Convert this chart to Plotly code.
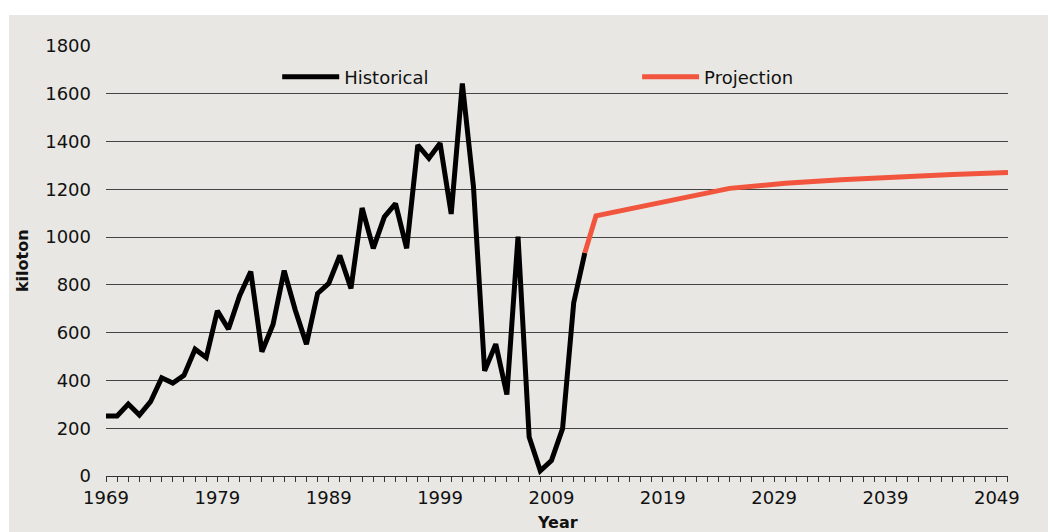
import plotly.graph_objects as go

# Historical series, kiloton per year
hist_years = list(range(1969, 2013))
hist_values = [
    251, 251, 301, 255, 311, 411, 389, 421, 531, 496,
    691, 615, 755, 856, 520, 634, 860, 694, 552, 764,
    806, 923, 785, 1122, 953, 1085, 1140, 953, 1385, 1330,
    1393, 1097, 1643, 1210, 440, 552, 341, 1002, 163, 22,
    65, 198, 725, 934,
]

# Projection, joined to the last historical year
proj_years = [2012, 2013, 2025, 2030, 2035, 2040, 2045, 2050]
proj_values = [934, 1089, 1204, 1225, 1240, 1252, 1262, 1270]

x_ticks = list(range(1969, 2050, 10))
y_ticks = list(range(0, 1801, 200))

PANEL = "#e8e7e3"
GRID = "#444444"
FONT = "DejaVu Sans"

fig = go.Figure()
fig.add_trace(go.Scatter(
    x=hist_years, y=hist_values, mode="lines", name="Historical",
    line=dict(color="#000000", width=5), legend="legend",
))
fig.add_trace(go.Scatter(
    x=proj_years, y=proj_values, mode="lines", name="Projection",
    line=dict(color="#f2553d", width=5), legend="legend2",
))

fig.update_xaxes(
    range=[1969, 2050.001], tickvals=x_ticks, ticks="outside", ticklen=5,
    tickcolor="#333333", showline=True, linecolor="#333333", linewidth=1,
    showgrid=False, zeroline=False,
    minor=dict(dtick=1, tick0=1969, ticks="outside", ticklen=5, tickcolor="#333333"),
    tickfont=dict(size=18, color="#111111"),
)
fig.update_yaxes(
    range=[0, 1800], tickvals=y_ticks, showgrid=True, gridcolor=GRID, gridwidth=1,
    zeroline=False, showline=False, ticks="", ticklabelstandoff=14,
    tickfont=dict(size=18, color="#111111"),
)

# page body adds an 8px margin, so the figure is 8px smaller than the window
fig.update_layout(
    width=1048, height=524,
    margin=dict(l=98, r=48, t=38, b=56, autoexpand=False),
    paper_bgcolor="white", plot_bgcolor=PANEL,
    font=dict(family=FONT, color="#111111"),
    showlegend=True,
    legend=dict(x=0.1898, y=0.928, xanchor="left", yanchor="middle", itemwidth=57,
                bgcolor="rgba(0,0,0,0)", font=dict(size=18)),
    legend2=dict(x=0.5888, y=0.928, xanchor="left", yanchor="middle", itemwidth=57,
                 bgcolor="rgba(0,0,0,0)", font=dict(size=18)),
    shapes=[dict(type="rect", xref="paper", yref="paper", layer="below",
                 x0=-0.1075, x1=1.06, y0=-0.14, y1=1.072,
                 fillcolor=PANEL, line=dict(width=0))],
    annotations=[
        dict(text="<b>kiloton</b>", textangle=-90, xref="paper", yref="paper",
             x=-0.093, y=0.5, xanchor="center", yanchor="middle",
             showarrow=False, font=dict(size=16, color="#111111")),
        dict(text="<b>Year</b>", xref="paper", yref="paper",
             x=0.5, y=-0.107, xanchor="center", yanchor="middle",
             showarrow=False, font=dict(size=16, color="#111111")),
    ],
)

fig.write_html("out.html")
